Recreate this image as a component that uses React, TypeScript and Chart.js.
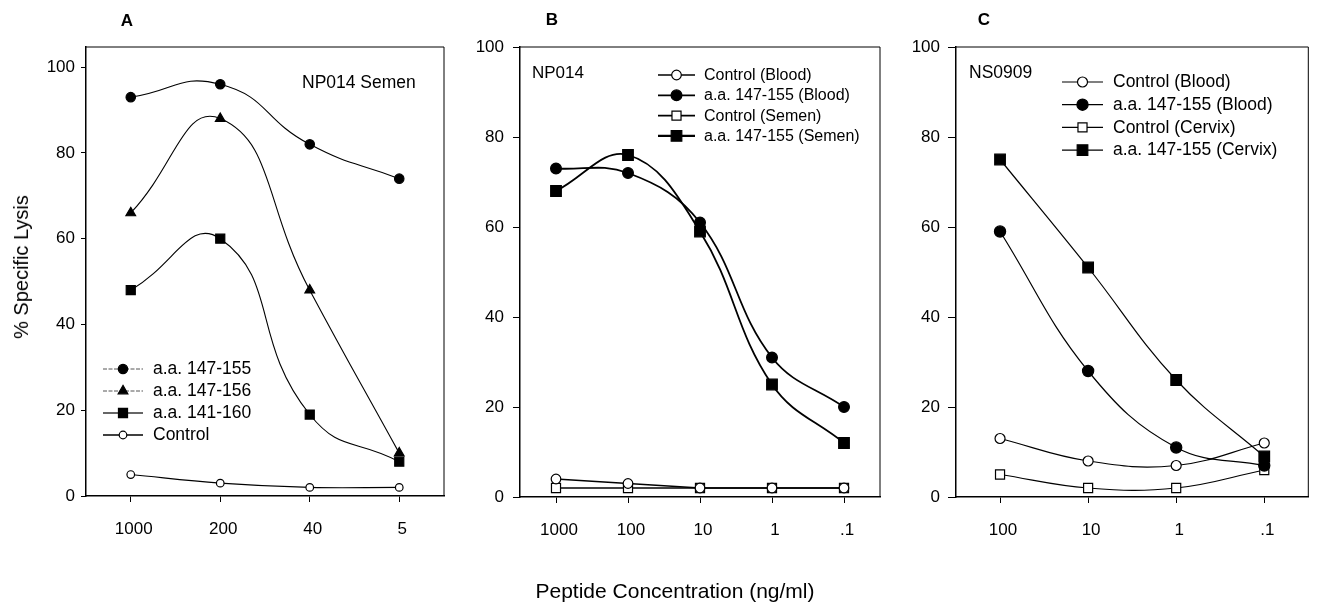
import React, { useEffect, useRef } from 'react';
import { Chart, registerables } from 'chart.js';

Chart.register(...registerables);

const FONT = '"Liberation Sans", Arial, Helvetica, sans-serif';

// ---------- Panel A : NP014 Semen ----------
const catsA = ['1000', '200', '40', '5'];
const aPep147_155 = [93, 96, 82, 74];
const aPep147_156 = [66, 88, 48, 10];
const aPep141_160 = [48, 60, 19, 8];
const aControl = [5, 3, 2, 2];

// ---------- Panel B : NP014 ----------
const catsB = ['1000', '100', '10', '1', '.1'];
const bControlBlood = [4, 3, 2, 2, 2];
const bPepBlood = [73, 72, 61, 31, 20];
const bControlSemen = [2, 2, 2, 2, 2];
const bPepSemen = [68, 76, 59, 25, 12];

// ---------- Panel C : NS0909 ----------
const catsC = ['100', '10', '1', '.1'];
const cControlBlood = [13, 8, 7, 12];
const cPepBlood = [59, 28, 11, 7];
const cControlCervix = [5, 2, 2, 6];
const cPepCervix = [75, 51, 26, 9];

const yTickValues = [0, 20, 40, 60, 80, 100];

const H = 603;

function drawMarker(ctx: CanvasRenderingContext2D, style: string, r: number, x: number, y: number, fill: string, stroke: string, lw: number) {
  ctx.beginPath();
  if (style === 'rect') {
    const s = r * Math.SQRT1_2;
    ctx.rect(x - s, y - s, 2 * s, 2 * s);
  } else if (style === 'triangle') {
    let rad = 0;
    ctx.moveTo(x + Math.sin(rad) * r, y - Math.cos(rad) * r);
    rad += (2 * Math.PI) / 3;
    ctx.lineTo(x + Math.sin(rad) * r, y - Math.cos(rad) * r);
    rad += (2 * Math.PI) / 3;
    ctx.lineTo(x + Math.sin(rad) * r, y - Math.cos(rad) * r);
    ctx.closePath();
  } else {
    ctx.arc(x, y, r, 0, Math.PI * 2);
  }
  ctx.fillStyle = fill;
  ctx.fill();
  ctx.lineWidth = lw;
  ctx.strokeStyle = stroke;
  ctx.stroke();
}

const panelDecor = {
  id: 'panelDecor',
  afterDatasetsDraw(chart: any, _args: any, opts: any) {
    const ctx: CanvasRenderingContext2D = chart.ctx;
    const ca = chart.chartArea;
    const ox = opts.offsetX || 0;
    ctx.save();
    // top and right frame
    ctx.strokeStyle = '#000';
    ctx.lineWidth = opts.frameWidth || 1;
    ctx.beginPath();
    ctx.moveTo(ca.left, ca.top);
    ctx.lineTo(ca.right, ca.top);
    ctx.lineTo(ca.right, ca.bottom);
    ctx.stroke();
    // note text
    if (opts.note) {
      ctx.font = `${opts.note.size}px ${FONT}`;
      ctx.fillStyle = '#000';
      ctx.textAlign = 'left';
      ctx.textBaseline = 'middle';
      ctx.fillText(opts.note.text, opts.note.x - ox, opts.note.y);
    }
    // legend
    const lg = opts.legend;
    if (lg) {
      chart.data.datasets.forEach((ds: any, i: number) => {
        const y = lg.y + i * lg.dy;
        const x1 = lg.x - ox;
        const x2 = x1 + lg.len;
        ctx.strokeStyle = ds.legendLineColor || ds.borderColor;
        ctx.lineWidth = ds.legendLineWidth || ds.borderWidth;
        ctx.setLineDash(ds.legendDash || []);
        ctx.beginPath();
        ctx.moveTo(x1, y);
        ctx.lineTo(x2, y);
        ctx.stroke();
        ctx.setLineDash([]);
        drawMarker(ctx, ds.pointStyle, ds.pointRadius, (x1 + x2) / 2, y, ds.pointBackgroundColor, ds.pointBorderColor, ds.pointBorderWidth);
        ctx.font = `${lg.size}px ${FONT}`;
        ctx.fillStyle = '#000';
        ctx.textAlign = 'left';
        ctx.textBaseline = 'middle';
        ctx.fillText(ds.label, x2 + lg.gap, y + 0.5);
      });
    }
    ctx.restore();
  },
};

function ds(label: string, data: number[], style: string, filled: boolean, r: number, lw: number, tension: number, extra: any = {}) {
  return {
    label,
    data,
    borderColor: '#000',
    borderWidth: lw,
    pointStyle: style,
    pointRadius: r,
    pointHoverRadius: r,
    pointBackgroundColor: filled ? '#000' : '#fff',
    pointBorderColor: '#000',
    pointBorderWidth: 1.2,
    tension,
    fill: false,
    clip: false as any,
    ...extra,
  };
}

interface PanelSpec {
  left: number;
  width: number;
  yAxisWidth: number;
  padRight: number;
  padBottom: number;
  yMax: number;
  yTickLen: number;
  yTickPad: number;
  labels: string[];
  datasets: any[];
  decor: any;
}

function buildConfig(p: PanelSpec): any {
  return {
    type: 'line',
    data: { labels: p.labels, datasets: p.datasets },
    plugins: [panelDecor],
    options: {
      responsive: false,
      animation: false,
      devicePixelRatio: 1,
      events: [],
      layout: { padding: { top: 47, left: 0, right: p.padRight, bottom: p.padBottom } },
      plugins: {
        legend: { display: false },
        tooltip: { enabled: false },
        title: { display: false },
        panelDecor: { ...p.decor, offsetX: p.left },
      },
      scales: {
        x: {
          type: 'category',
          offset: true,
          grid: { display: true, drawOnChartArea: false, drawTicks: true, tickLength: 6, tickColor: '#000', tickWidth: 1, offset: false },
          border: { display: true, color: '#000', width: 1.5 },
          ticks: { color: '#000', font: { family: FONT, size: 17 }, padding: 17, labelOffset: 3, maxRotation: 0, autoSkip: false },
          afterFit: (s: any) => { s.height = 50; },
        },
        y: {
          type: 'linear',
          min: 0,
          max: p.yMax,
          afterBuildTicks: (s: any) => { s.ticks = yTickValues.map((v) => ({ value: v })); },
          grid: { display: true, drawOnChartArea: false, drawTicks: true, tickLength: p.yTickLen, tickColor: '#000', tickWidth: 1 },
          border: { display: true, color: '#000', width: 1.5 },
          ticks: { color: '#000', font: { family: FONT, size: 17 }, padding: p.yTickPad },
          title: { display: false },
          afterFit: (s: any) => { s.width = p.yAxisWidth; },
        },
      },
    },
  };
}

const panels: PanelSpec[] = [
  {
    left: 0,
    width: 470,
    yAxisWidth: 86,
    padRight: 26,
    padBottom: 57,
    yMax: 104.7,
    yTickLen: 5,
    yTickPad: 6,
    labels: catsA,
    datasets: [
      ds('a.a. 147-155', aPep147_155, 'circle', true, 4.7, 1.1, 0.5, { legendLineColor: '#555', legendDash: [4, 1.5], legendLineWidth: 1 }),
      ds('a.a. 147-156', aPep147_156, 'triangle', true, 5.6, 1.1, 0.5, { legendLineColor: '#555', legendDash: [4, 1.5], legendLineWidth: 1 }),
      ds('a.a. 141-160', aPep141_160, 'rect', true, 6.4, 1.1, 0.5, { legendLineColor: '#333', legendLineWidth: 1.5 }),
      ds('Control', aControl, 'circle', false, 3.8, 1.1, 0.4, { legendLineWidth: 1.3 }),
    ],
    decor: {
      note: { text: 'NP014 Semen', x: 302, y: 83, size: 17.5 },
      legend: { x: 103, y: 369, dy: 22, len: 40, gap: 10, size: 17.5 },
    },
  },
  {
    left: 460,
    width: 440,
    yAxisWidth: 60,
    padRight: 20,
    padBottom: 56,
    yMax: 100,
    yTickLen: 7,
    yTickPad: 9,
    labels: catsB,
    datasets: [
      ds('Control (Blood)', bControlBlood, 'circle', false, 4.8, 1.6, 0, {}),
      ds('a.a. 147-155 (Blood)', bPepBlood, 'circle', true, 5.4, 1.8, 0.4, {}),
      ds('Control (Semen)', bControlSemen, 'rect', false, 6.4, 1.6, 0, {}),
      ds('a.a. 147-155 (Semen)', bPepSemen, 'rect', true, 7.5, 1.8, 0.4, { legendLineWidth: 2.4 }),
    ],
    decor: {
      note: { text: 'NP014', x: 532, y: 73, size: 17 },
      legend: { x: 658, y: 75, dy: 20.3, len: 37, gap: 9, size: 16 },
    },
  },
  {
    left: 900,
    width: 417,
    yAxisWidth: 56,
    padRight: 3,
    padBottom: 56,
    yMax: 100,
    yTickLen: 8,
    yTickPad: 8,
    labels: catsC,
    datasets: [
      ds('Control (Blood)', cControlBlood, 'circle', false, 5, 1.2, 0.4, {}),
      ds('a.a. 147-155 (Blood)', cPepBlood, 'circle', true, 5.6, 1.2, 0.4, {}),
      ds('Control (Cervix)', cControlCervix, 'rect', false, 6.4, 1.2, 0.4, {}),
      ds('a.a. 147-155 (Cervix)', cPepCervix, 'rect', true, 7.5, 1.2, 0.4, {}),
    ],
    decor: {
      note: { text: 'NS0909', x: 969, y: 73, size: 17.5 },
      legend: { x: 1062, y: 82, dy: 22.7, len: 41, gap: 10, size: 17.5 },
    },
  },
];

function Panel({ spec }: { spec: PanelSpec }) {
  const ref = useRef<HTMLCanvasElement | null>(null);
  useEffect(() => {
    if (!ref.current) return;
    const chart = new Chart(ref.current, buildConfig(spec));
    return () => chart.destroy();
  }, [spec]);
  return (
    <canvas
      ref={ref}
      width={spec.width}
      height={H}
      style={{ position: 'absolute', left: spec.left, top: 0, width: spec.width, height: H }}
    />
  );
}

const letterStyle = (x: number, y: number): React.CSSProperties => ({
  position: 'absolute',
  left: x,
  top: y,
  transform: 'translate(-50%, -50%)',
  fontFamily: FONT,
  fontWeight: 'bold',
  fontSize: 17,
  lineHeight: 1,
  color: '#000',
  whiteSpace: 'nowrap',
});

export default function App() {
  return (
    <div style={{ position: 'fixed', left: 0, top: 0, width: 1317, height: H, background: '#fff', overflow: 'hidden' }}>
      {panels.map((p, i) => (
        <Panel key={i} spec={p} />
      ))}
      <div style={letterStyle(127, 20)}>A</div>
      <div style={letterStyle(552, 19)}>B</div>
      <div style={letterStyle(984, 19)}>C</div>
      <div
        style={{
          position: 'absolute',
          left: 20.5,
          top: 266.5,
          transform: 'translate(-50%, -50%) rotate(-90deg)',
          fontFamily: FONT,
          fontSize: 20,
          lineHeight: 1,
          color: '#000',
          whiteSpace: 'nowrap',
        }}
      >
        % Specific Lysis
      </div>
      <div
        style={{
          position: 'absolute',
          left: 675,
          top: 590,
          transform: 'translate(-50%, -50%)',
          fontFamily: FONT,
          fontSize: 21,
          lineHeight: 1,
          color: '#000',
          whiteSpace: 'nowrap',
        }}
      >
        Peptide Concentration (ng/ml)
      </div>
    </div>
  );
}
